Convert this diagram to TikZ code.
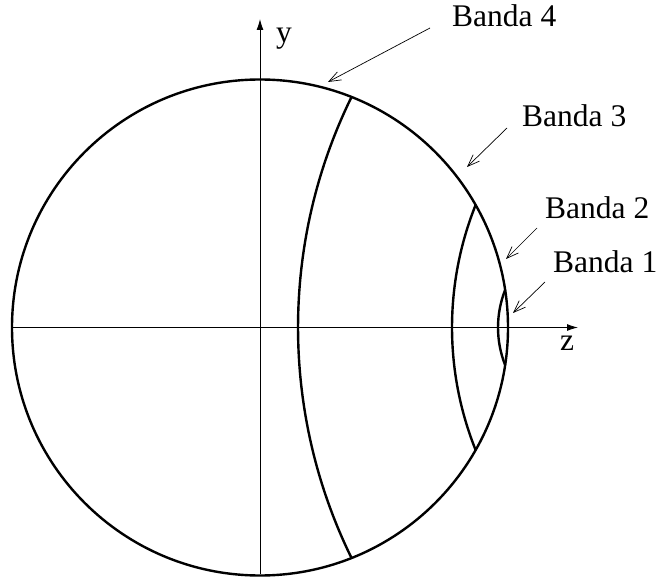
\documentclass[tikz,border=0pt]{standalone}
\usepackage{fontspec}
\setmainfont{Liberation Serif}
\usetikzlibrary{arrows.meta}
\begin{document}
\begin{tikzpicture}[x=1pt,y=1pt,
  thick line/.style={line width=2.4pt},
  axis/.style={line width=0.9pt,-{Latex[length=11pt,width=7pt]}},
  pointer/.style={line width=0.7pt,-{Straight Barb[length=12pt,width=9pt]}},
  lbl/.style={inner sep=0pt,anchor=base west,font=\fontsize{31.5}{36}\selectfont}]
\useasboundingbox (0,0) rectangle (656,579);
\coordinate (C) at (260,251.5);
% axes
\coordinate (xl) at (12,251.5);
\coordinate (xr) at (578,251.5);
\coordinate (yb) at (260,5);
\coordinate (yt) at (260,560);
\draw[axis] (xl) -- (xr);
\draw[axis] (yb) -- (yt);
% circle
\draw[thick line] (C) circle (248);
% band arcs
\draw[thick line] (821.3,251.5) ++(153.9:523.3) arc[start angle=153.9,end angle=206.1,radius=523.3];
\draw[thick line] (781.7,251.5) ++(158.2:329.7) arc[start angle=158.2,end angle=201.8,radius=329.7];
\draw[thick line] (600.5,251.5) ++(158.5:102.5) arc[start angle=158.5,end angle=201.5,radius=102.5];
% axis labels
\node[lbl] (ylab) at (276,536) {y};
\node[lbl] (zlab) at (560,228) {z};
% band labels
\node[lbl] (b4) at (452,552) {Banda 4};
\node[lbl] (b3) at (522,452) {Banda 3};
\node[lbl] (b2) at (545,360) {Banda 2};
\node[lbl] (b1) at (553,306) {Banda 1};
% pointers
\coordinate (p4s) at (430,551); \coordinate (p4e) at (328,497);
\coordinate (p3s) at (507,451); \coordinate (p3e) at (467,412);
\coordinate (p2s) at (537,351); \coordinate (p2e) at (506,320);
\coordinate (p1s) at (545,297); \coordinate (p1e) at (513,266);
\draw[pointer] (p4s) -- (p4e);
\draw[pointer] (p3s) -- (p3e);
\draw[pointer] (p2s) -- (p2e);
\draw[pointer] (p1s) -- (p1e);
\end{tikzpicture}
\end{document}
